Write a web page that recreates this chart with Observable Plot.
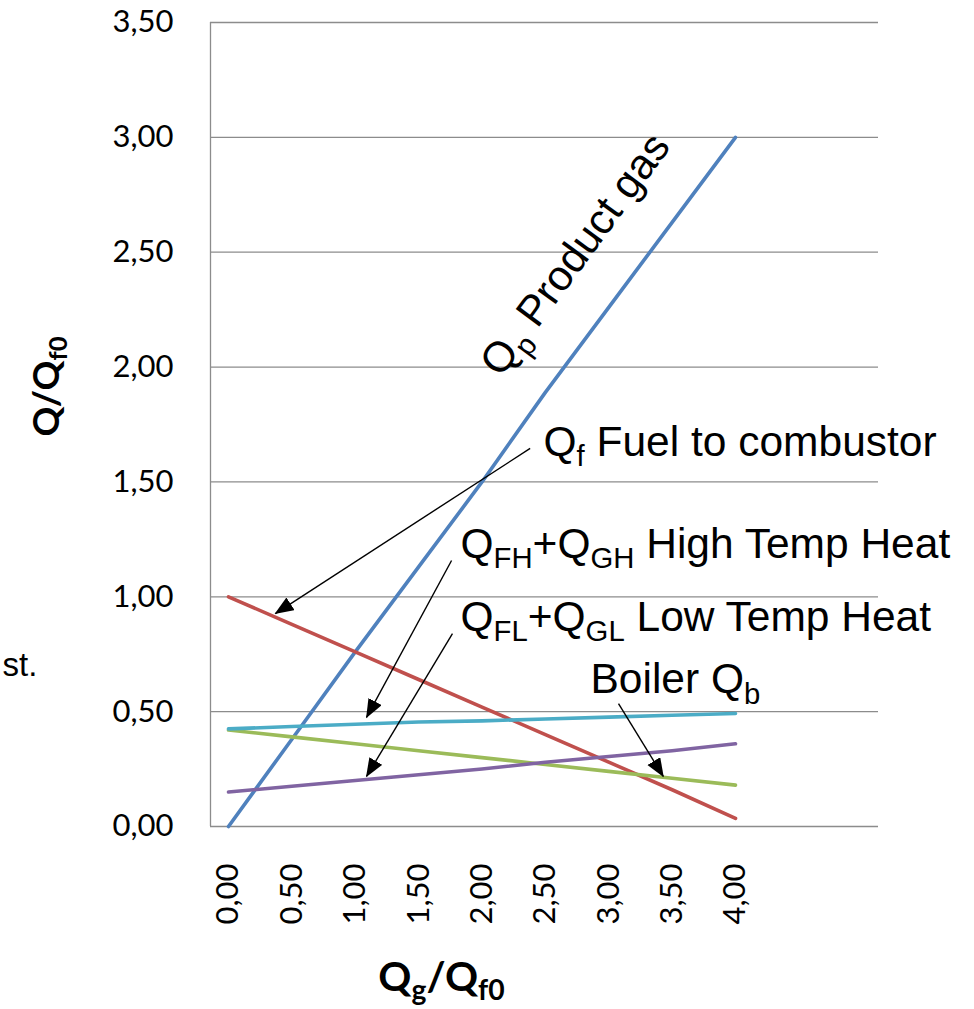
<!DOCTYPE html>
<html>
<head>
<meta charset="utf-8">
<script src="https://cdn.jsdelivr.net/npm/d3@7"></script>
<script src="https://cdn.jsdelivr.net/npm/@observablehq/plot@0.6"></script>
<style>
  html, body { margin: 0; padding: 0; background: #fff; }
  #chart svg { display: block; }
</style>
</head>
<body>
<div id="chart"></div>
<script>
// ---- data ----
const xs         = [0, 0.5, 1, 1.5, 2, 2.5, 3, 3.5, 4];
const productGas = [0, 0.38, 0.76, 1.13, 1.50, 1.89, 2.26, 2.63, 3.00];
const fuel       = [1.00, 0.88, 0.76, 0.64, 0.52, 0.40, 0.28, 0.16, 0.035];
const boiler     = [0.42, 0.39, 0.36, 0.33, 0.30, 0.27, 0.24, 0.21, 0.18];
const lowTemp    = [0.15, 0.175, 0.20, 0.225, 0.25, 0.28, 0.305, 0.33, 0.36];
const highTemp   = [0.425, 0.435, 0.445, 0.455, 0.46, 0.468, 0.476, 0.484, 0.492];

const seriesNames  = ["Product gas", "Fuel to combustor", "Boiler", "Low Temp Heat", "High Temp Heat"];
const seriesValues = [productGas, fuel, boiler, lowTemp, highTemp];
const seriesColors = ["#4F81BD", "#C0504D", "#9BBB59", "#8064A2", "#4BACC6"];

const xTicks = [0, 0.5, 1, 1.5, 2, 2.5, 3, 3.5, 4];
const yTicks = [0, 0.5, 1, 1.5, 2, 2.5, 3, 3.5];

// annotation texts (markup: _{...} = subscript), anchored in data units
const labelTexts = ["Q_{f} Fuel to combustor", "Q_{FH}+Q_{GH} High Temp Heat", "Q_{FL}+Q_{GL} Low Temp Heat", "Boiler Q_{b}"];
const labelX     = [2.485, 1.83, 1.83, 2.856];
const labelY     = [1.615, 1.171, 0.853, 0.579];

const productLabel = "Q_{p} Product gas";
const productLabelX = 2.15, productLabelY = 1.95;

// arrows: from label to curve
const arrowX1 = [2.38, 1.76, 1.767, 3.077];
const arrowY1 = [1.646, 1.158, 0.84, 0.535];
const arrowX2 = [0.37, 1.089, 1.089, 3.43];
const arrowY2 = [0.927, 0.475, 0.218, 0.218];

// ---- build tables ----
const rows = [];
seriesNames.forEach((name, i) => xs.forEach((x, j) => rows.push({series: name, x, y: seriesValues[i][j]})));
const labels = labelTexts.map((t, i) => ({t, x: labelX[i], y: labelY[i]}));
const arrows = arrowX1.map((_, i) => ({x1: arrowX1[i], y1: arrowY1[i], x2: arrowX2[i], y2: arrowY2[i]}));

const W = 974, H = 1009;
const mL = 210, mR = 96, mT = 22, mB = 183;
const pxPerX = 126.75;
const pxPerY = (H - mT - mB) / 3.5;
const xDomain = [(mL - 228) / pxPerX, (W - mR - 228) / pxPerX];

const grid = "#8c8c8c";
const fmt = d => d3.format(".2f")(d).replace(".", ",");

// blue line angle in screen space
const dxPx = (xs[8] - xs[0]) * pxPerX;
const dyPx = (productGas[8] - productGas[0]) * pxPerY;
const productAngle = -Math.atan2(dyPx, dxPx) * 180 / Math.PI;

const annotFont = "Liberation Sans, Arial, sans-serif";

const chart = Plot.plot({
  width: W, height: H,
  marginLeft: mL, marginRight: mR, marginTop: mT, marginBottom: mB,
  style: {fontFamily: "Lato, sans-serif", background: "#fff", overflow: "visible"},
  x: {domain: xDomain},
  y: {domain: [0, 3.5]},
  color: {domain: seriesNames, range: seriesColors},
  marks: [
    Plot.ruleY(yTicks, {stroke: grid, strokeWidth: 1.3}),
    Plot.ruleX([xDomain[0]], {stroke: grid, strokeWidth: 1.3}),
    Plot.axisY({ticks: yTicks, tickFormat: fmt, tickSize: 0, tickPadding: 37, fontSize: 31, label: null, color: "#000"}),
    Plot.axisX({ticks: xTicks, tickFormat: fmt, tickSize: 0, tickPadding: 37, tickRotate: -90, fontSize: 31, label: null, color: "#000"}),
    Plot.line(rows, {x: "x", y: "y", z: "series", stroke: "series", strokeWidth: 3.6, strokeLinecap: "round", strokeLinejoin: "round"}),
    Plot.link(arrows, {x1: "x1", y1: "y1", x2: "x2", y2: "y2", stroke: "#000", strokeWidth: 1.4, className: "arrowlinks"}),
    Plot.text(labels, {x: "x", y: "y", text: "t", textAnchor: "start", lineAnchor: "bottom", fontSize: 42.5, fill: "#000", fontFamily: annotFont, className: "annot"}),
    Plot.text([productLabel], {x: productLabelX, y: productLabelY, text: d => d, rotate: productAngle, textAnchor: "start", lineAnchor: "bottom", fontSize: 42.5, fill: "#000", fontFamily: annotFont, className: "annot"}),
    Plot.text(["st."], {frameAnchor: "left", y: (826 - 675) / pxPerY, dx: -208, textAnchor: "start", lineAnchor: "bottom", fontSize: 33, fill: "#000", fontFamily: annotFont}),
    Plot.text(["Q_{g}/Q_{f0}"], {x: (441 - 228) / pxPerX, frameAnchor: "bottom", dy: 164, textAnchor: "middle", lineAnchor: "bottom", fontSize: 41, fontWeight: "bold", fill: "#000", className: "annot"}),
    Plot.text(["Q/Q_{f0}"], {y: (826 - 386) / pxPerY, frameAnchor: "left", dx: -152, rotate: -90, textAnchor: "middle", lineAnchor: "bottom", fontSize: 37, fontWeight: "bold", fill: "#000", className: "annot"})
  ]
});

document.getElementById("chart").appendChild(chart);
const svg = d3.select(chart);

// subscript markup -> tspans
svg.selectAll("g.annot text").each(function() {
  const el = this;
  const s = el.textContent;
  const fs = parseFloat(getComputedStyle(el).fontSize) || 40;
  const shift = fs * 0.24;
  while (el.firstChild) el.removeChild(el.firstChild);
  const re = /_\{([^}]*)\}/g;
  let last = 0, m, lowered = false;
  const add = (txt, sub) => {
    if (!txt) return;
    const ts = document.createElementNS("http://www.w3.org/2000/svg", "tspan");
    ts.textContent = txt;
    if (sub) {
      ts.setAttribute("font-size", (fs * 0.69).toFixed(1));
      if (!lowered) { ts.setAttribute("dy", shift.toFixed(1)); lowered = true; }
    } else if (lowered) {
      ts.setAttribute("dy", (-shift).toFixed(1)); lowered = false;
    }
    el.appendChild(ts);
  };
  while ((m = re.exec(s))) { add(s.slice(last, m.index), false); add(m[1], true); last = re.lastIndex; }
  add(s.slice(last), false);
});

// filled arrowheads
const defs = svg.append("defs");
defs.append("marker").attr("id", "ahead").attr("markerUnits", "userSpaceOnUse")
  .attr("markerWidth", 20).attr("markerHeight", 16).attr("refX", 18).attr("refY", 7.5)
  .attr("orient", "auto")
  .append("path").attr("d", "M0,0L19,7.5L0,15Z").attr("fill", "#000");
svg.selectAll("g.arrowlinks path").attr("marker-end", "url(#ahead)");
</script>
</body>
</html>
